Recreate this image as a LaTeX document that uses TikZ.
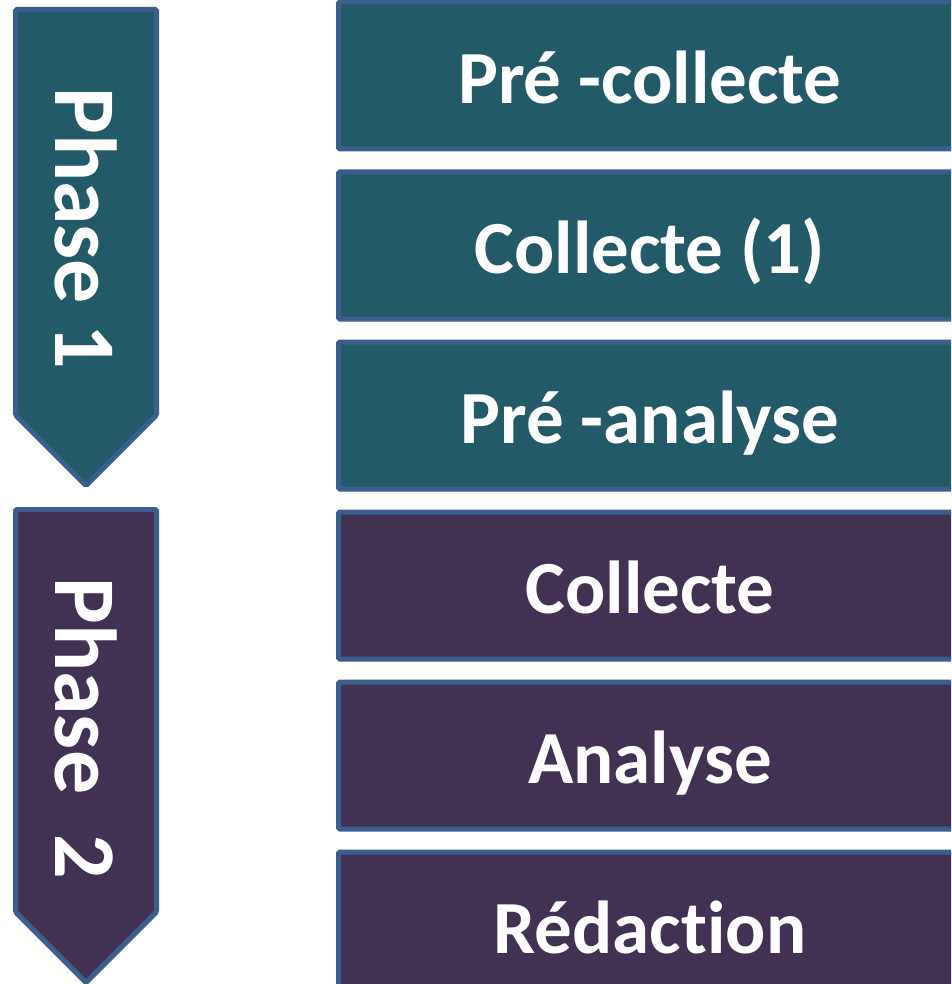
\documentclass[tikz,border=0pt]{standalone}
\usepackage{fontspec}
\setmainfont{Carlito}[Ligatures=NoCommon]
\definecolor{tealfill}{HTML}{225A68}
\definecolor{purplefill}{HTML}{413152}
\definecolor{edgeblue}{HTML}{3A5F8F}
\tikzset{
  chev/.style={draw=edgeblue, line width=5pt, rounded corners=1.5pt, line join=miter},
  stagebox/.style={draw=edgeblue, line width=5pt, rounded corners=1.5pt, rectangle,
    minimum width=623pt, minimum height=147pt, inner sep=0pt,
    text height=66pt, text depth=10pt,
    text=white, font=\fontsize{75}{84}\selectfont\bfseries},
  phaselabel/.style={text=white, rotate=-90, inner sep=0pt,
    font=\fontsize{88}{96}\selectfont\bfseries}
}
\begin{document}
\begin{tikzpicture}[x=1pt,y=-1pt]
\useasboundingbox (0,0) rectangle (951,984);
\clip (0,0) rectangle (951,984);
% phase chevrons
\draw[chev, fill=tealfill] (15.5,9.5) -- (156.5,9.5) -- (156.5,415) -- (86,485.5) -- (15.5,415) -- cycle;
\draw[chev, fill=purplefill] (15.5,509.5) -- (156.5,509.5) -- (156.5,912) -- (86,982.5) -- (15.5,912) -- cycle;
\node[phaselabel] (p1) at (86,228) {Phase 1};
\node[phaselabel] (p2) at (86,728) {Phase\ \ 2};
% stage boxes
\node[stagebox, fill=tealfill]   (b1) at (650,75.5)  {Pré -collecte};
\node[stagebox, fill=tealfill]   (b2) at (650,245.5) {Collecte (1)};
\node[stagebox, fill=tealfill]   (b3) at (650,415.5) {Pré -analyse};
\node[stagebox, fill=purplefill] (b4) at (650,585.5) {Collecte};
\node[stagebox, fill=purplefill] (b5) at (650,755.5) {Analyse};
\node[stagebox, fill=purplefill] (b6) at (650,925.5) {Rédaction};
\end{tikzpicture}
\end{document}
